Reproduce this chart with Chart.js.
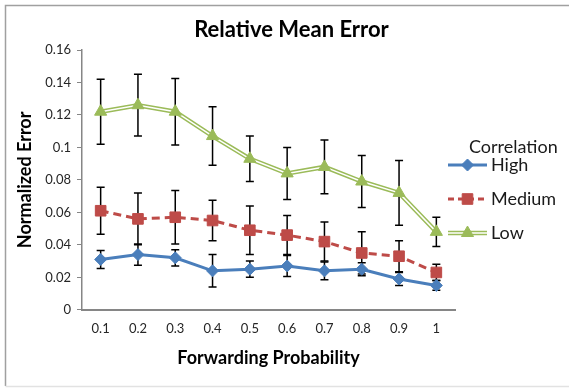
<!DOCTYPE html>
<html>
<head>
<meta charset="utf-8">
<script src="https://cdn.jsdelivr.net/npm/chart.js@4/dist/chart.umd.min.js"></script>
<style>
  html, body { margin: 0; padding: 0; background: #ffffff; }
  #wrap { width: 569px; height: 388px; position: relative; }
</style>
</head>
<body>
<div id="wrap"><canvas id="c" width="569" height="388"></canvas></div>
<script>
const categories = ['0.1', '0.2', '0.3', '0.4', '0.5', '0.6', '0.7', '0.8', '0.9', '1'];
const seriesNames = ['High', 'Medium', 'Low'];
const highValues   = [0.031, 0.034, 0.032, 0.024, 0.025, 0.027, 0.024, 0.025, 0.019, 0.015];
const highErrors   = [0.0055, 0.0065, 0.005, 0.010, 0.005, 0.0065, 0.0055, 0.004, 0.004, 0.003];
const mediumValues = [0.061, 0.056, 0.057, 0.055, 0.049, 0.046, 0.042, 0.035, 0.033, 0.023];
const mediumErrors = [0.0145, 0.016, 0.0165, 0.0125, 0.015, 0.012, 0.012, 0.013, 0.0095, 0.005];
const lowValues    = [0.122, 0.126, 0.122, 0.107, 0.093, 0.084, 0.088, 0.079, 0.072, 0.048];
const lowErrors    = [0.020, 0.019, 0.0205, 0.018, 0.014, 0.016, 0.0165, 0.016, 0.020, 0.009];
const yTicks = [0, 0.02, 0.04, 0.06, 0.08, 0.1, 0.12, 0.14, 0.16];
const chartTitle = 'Relative Mean Error';
const xTitle = 'Forwarding Probability';
const yTitle = 'Normalized Error';
const legendTitle = 'Correlation';

const BLUE = '#4a7ebb', RED = '#be4b48', GREEN = '#9bbb59';
const FONT = 'Lato, "Open Sans", "Liberation Sans", sans-serif';

const errorSets = [
  { values: highValues, errors: highErrors },
  { values: mediumValues, errors: mediumErrors },
  { values: lowValues, errors: lowErrors }
];

const errorBarPlugin = {
  id: 'errorBars',
  beforeDatasetsDraw(chart) {
    const ctx = chart.ctx, xs = chart.scales.x, ys = chart.scales.y;
    ctx.save();
    ctx.strokeStyle = '#000';
    ctx.lineWidth = 1.5;
    errorSets.forEach(s => {
      s.values.forEach((v, i) => {
        const x = xs.getPixelForValue(i);
        const yt = ys.getPixelForValue(v + s.errors[i]);
        const yb = ys.getPixelForValue(v - s.errors[i]);
        ctx.beginPath();
        ctx.moveTo(x, yt); ctx.lineTo(x, yb);
        ctx.moveTo(x - 4, yt); ctx.lineTo(x + 4, yt);
        ctx.moveTo(x - 4, yb); ctx.lineTo(x + 4, yb);
        ctx.stroke();
      });
    });
    ctx.restore();
  }
};

const legendItems = [
  { name: seriesNames[0], color: BLUE, dash: [], style: 'rectRot', radius: 6, double: false },
  { name: seriesNames[1], color: RED, dash: [6, 4], style: 'rect', radius: 7.5, double: false },
  { name: seriesNames[2], color: GREEN, dash: [], style: 'triangle', radius: 7, double: true }
];

const legendPlugin = {
  id: 'customLegend',
  afterDraw(chart) {
    const ctx = chart.ctx;
    ctx.save();
    ctx.font = '18px ' + FONT;
    ctx.fillStyle = '#1a1a1a';
    ctx.textBaseline = 'middle';
    ctx.textAlign = 'left';
    ctx.fillText(legendTitle, 469, 147);
    legendItems.forEach((it, k) => {
      const y = 165 + k * 34;
      const x0 = 448, x1 = 487;
      if (it.double) {
        ctx.strokeStyle = it.color; ctx.lineWidth = 4.5; ctx.setLineDash([]);
        ctx.beginPath(); ctx.moveTo(x0, y); ctx.lineTo(x1, y); ctx.stroke();
        ctx.strokeStyle = '#fff'; ctx.lineWidth = 1.5;
        ctx.beginPath(); ctx.moveTo(x0, y); ctx.lineTo(x1, y); ctx.stroke();
      } else {
        ctx.strokeStyle = it.color; ctx.lineWidth = 3; ctx.setLineDash(it.dash);
        ctx.beginPath(); ctx.moveTo(x0, y); ctx.lineTo(x1, y); ctx.stroke();
        ctx.setLineDash([]);
      }
      ctx.fillStyle = it.color; ctx.strokeStyle = it.color; ctx.lineWidth = 1;
      Chart.helpers.drawPoint(ctx, { pointStyle: it.style, radius: it.radius, rotation: 0, borderWidth: 1 }, (x0 + x1) / 2, y);
      ctx.fillStyle = '#1a1a1a';
      ctx.fillText(it.name, 491, y);
    });
    ctx.restore();
  }
};

const framePlugin = {
  id: 'frame',
  afterDraw(chart) {
    const ctx = chart.ctx;
    ctx.save();
    ctx.lineWidth = 1.5;
    ctx.strokeStyle = '#a0a0a0';
    ctx.beginPath();
    ctx.moveTo(5.5, chart.height - 2);
    ctx.lineTo(5.5, 5.5);
    ctx.lineTo(chart.width, 5.5);
    ctx.stroke();
    ctx.strokeStyle = '#e2e2e2';
    ctx.beginPath();
    ctx.moveTo(5.5, chart.height - 1.5);
    ctx.lineTo(chart.width, chart.height - 1.5);
    ctx.stroke();
    ctx.restore();
  }
};

new Chart(document.getElementById('c'), {
  type: 'line',
  data: {
    labels: categories,
    datasets: [
      {
        label: seriesNames[0], data: highValues, order: 1,
        borderColor: BLUE, backgroundColor: BLUE, borderWidth: 3,
        pointStyle: 'rectRot', pointRadius: 6, pointBorderWidth: 1,
        pointBackgroundColor: BLUE, pointBorderColor: BLUE, tension: 0
      },
      {
        label: seriesNames[1], data: mediumValues, order: 2,
        borderColor: RED, backgroundColor: RED, borderWidth: 3, borderDash: [8, 5],
        pointStyle: 'rect', pointRadius: 7.5, pointBorderWidth: 1,
        pointBackgroundColor: RED, pointBorderColor: RED, tension: 0
      },
      {
        label: seriesNames[2], data: lowValues, order: 3,
        showLine: false,
        borderColor: GREEN, backgroundColor: GREEN,
        pointStyle: 'triangle', pointRadius: 7, pointBorderWidth: 1,
        pointBackgroundColor: GREEN, pointBorderColor: GREEN
      },
      {
        label: seriesNames[2] + ' inner', data: lowValues, order: 4,
        borderColor: '#ffffff', borderWidth: 1.5, pointRadius: 0, tension: 0
      },
      {
        label: seriesNames[2] + ' outer', data: lowValues, order: 5,
        borderColor: GREEN, borderWidth: 4.5, pointRadius: 0, tension: 0
      }
    ]
  },
  options: {
    responsive: false,
    animation: false,
    events: [],
    layout: { padding: { left: 14, right: 0, top: 0, bottom: 19 } },
    plugins: {
      legend: { display: false },
      tooltip: { enabled: false },
      title: {
        display: true, text: chartTitle, color: '#000',
        font: { family: FONT, size: 22, weight: 'bold' },
        padding: { top: 17, bottom: 6.6 }
      }
    },
    scales: {
      x: {
        type: 'category',
        offset: true,
        grid: { display: false, drawTicks: false },
        border: { display: true, color: '#868686', width: 2 },
        ticks: { color: '#262626', font: { family: FONT, size: 13 }, padding: 11, maxRotation: 0, autoSkip: false },
        title: {
          display: true, text: xTitle, color: '#000',
          font: { family: FONT, size: 18, weight: 'bold' },
          padding: { top: 0, bottom: 0 }
        }
      },
      y: {
        min: 0, max: 0.16,
        afterFit(scale) { scale.width = 68; },
        afterBuildTicks(scale) { scale.ticks = yTicks.map(v => ({ value: v })); },
        grid: { display: true, drawOnChartArea: false, drawTicks: true, tickLength: 5, color: '#868686', lineWidth: 1 },
        border: { display: true, color: '#868686', width: 1.5 },
        ticks: {
          color: '#262626', font: { family: FONT, size: 13 }, padding: 6,
          callback: (v) => String(parseFloat(Number(v).toFixed(2)))
        },
        title: {
          display: true, text: yTitle, color: '#000',
          font: { family: FONT, size: 18, weight: 'bold' },
          padding: { top: 0, bottom: 0 }
        }
      },
      legendSpace: {
        type: 'linear',
        position: 'right',
        display: true,
        afterFit(scale) { scale.width = 114; },
        grid: { display: false, drawTicks: false },
        border: { display: false },
        ticks: { display: false }
      }
    }
  },
  plugins: [errorBarPlugin, legendPlugin, framePlugin]
});
</script>
</body>
</html>
